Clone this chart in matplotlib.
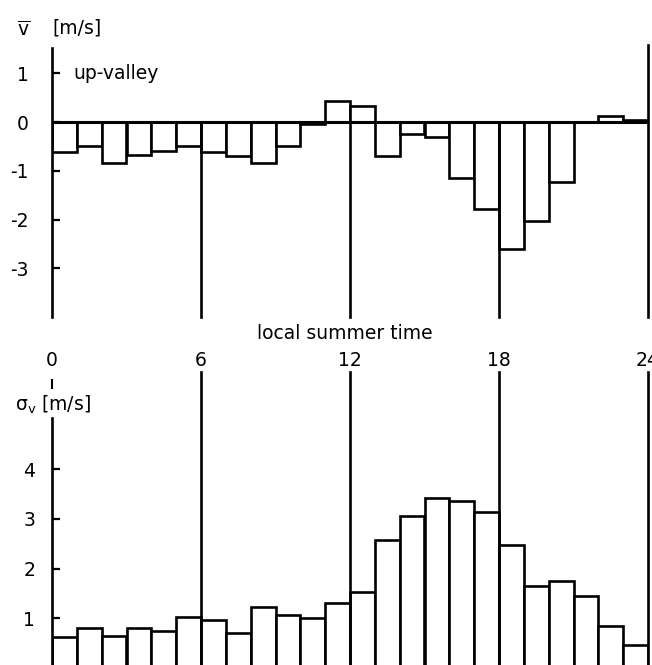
import matplotlib
matplotlib.use("Agg")
import matplotlib.pyplot as plt
import numpy as np

hours = np.arange(24)
v_mean = [-0.62, -0.50, -0.84, -0.67, -0.60, -0.50, -0.62, -0.69, -0.84, -0.50,
          -0.04, 0.44, 0.32, -0.70, -0.24, -0.31, -1.15, -1.78, -2.60, -2.02,
          -1.24, 0.00, 0.12, 0.04]
sigma_v = [0.63, 0.80, 0.65, 0.80, 0.74, 1.03, 0.97, 0.70, 1.22, 1.07,
           1.01, 1.30, 1.54, 2.58, 3.06, 3.43, 3.36, 3.15, 2.47, 1.66,
           1.75, 1.45, 0.85, 0.46]
v_ticks = [-3, -2, -1, 0, 1]
v_ticklabels = ['-3', '-2', '-1', '0', '1']
s_ticks = [1, 2, 3, 4]
s_ticklabels = ['1', '2', '3', '4']
hour_ticks = [0, 6, 12, 18, 24]

W, H = 652, 665
fig = plt.figure(figsize=(W / 100, H / 100), dpi=100)
FS = 13.5
LW = 1.9

# ---------- top panel ----------
ax1 = fig.add_axes([52 / W, (H - 317) / H, 596 / W, 269 / H])
ax1.set_xlim(0, 24)
ax1.set_ylim(-4.0, 1.52)
ax1.bar(hours, v_mean, width=1.0, align='edge', facecolor='white',
        edgecolor='black', linewidth=LW, zorder=2)
ax1.plot([0, 24], [0, 0], color='black', lw=2.2, zorder=3)
for s in ['top', 'bottom', 'right']:
    ax1.spines[s].set_visible(False)
ax1.spines['left'].set_bounds(-4.0, 1.52)
ax1.spines['left'].set_linewidth(LW)
ax1.set_yticks(v_ticks)
ax1.set_yticklabels(v_ticklabels, fontsize=FS)
ax1.tick_params(axis='y', direction='in', length=6, width=1.6, pad=17)
ax1.set_xticks([])
for h in hour_ticks[1:4]:
    ax1.plot([h, h], [-4.0, 0], color='black', lw=LW, zorder=3, clip_on=False)
ax1.plot([24, 24], [-4.0, 1.58], color='black', lw=LW, zorder=3, clip_on=False)
ax1.text(0.85, 1.0, 'up-valley', fontsize=FS, ha='left', va='center')

fig.text(17 / W, 1 - 30 / H, r'$\overline{\mathrm{v}}$', fontsize=FS, ha='left', va='center')
fig.text(52 / W, 1 - 28 / H, '[m/s]', fontsize=FS, ha='left', va='center')

# ---------- bottom panel ----------
ax2 = fig.add_axes([52 / W, 0, 596 / W, (H - 372) / H])
ax2.set_xlim(0, 24)
ax2.set_ylim(0.06, 5.96)
ax2.bar(hours, sigma_v, width=1.0, align='edge', facecolor='white',
        edgecolor='black', linewidth=LW, zorder=2)
for s in ['top', 'bottom', 'right']:
    ax2.spines[s].set_visible(False)
ax2.spines['left'].set_bounds(0, 5.03)
ax2.spines['left'].set_linewidth(LW)
ax2.set_yticks(s_ticks)
ax2.set_yticklabels(s_ticklabels, fontsize=FS)
ax2.tick_params(axis='y', direction='in', length=6, width=1.6, pad=12)
ax2.set_xticks([])
for h in hour_ticks[1:]:
    ax2.plot([h, h], [0, 5.96], color='black', lw=LW, zorder=3, clip_on=False)
ax2.plot([0, 0], [5.64, 5.80], color='black', lw=1.5, clip_on=False)

for h in hour_ticks:
    ax2.text(h, 6.2, str(h), fontsize=FS, ha='center', va='center', clip_on=False)
ax2.text(11.8, 6.74, 'local summer time', fontsize=FS, ha='center', va='center')

fig.text(15 / W, 1 - 405 / H, r'σ$_{\mathrm{v}}$ [m/s]', fontsize=FS, ha='left', va='center')

fig.savefig('out.png', dpi=100)
